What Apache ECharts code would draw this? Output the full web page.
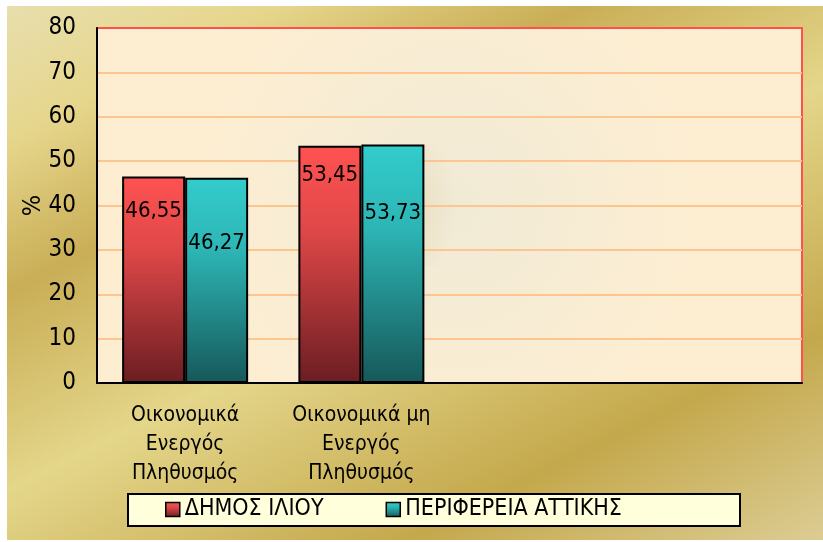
<!DOCTYPE html>
<html>
<head>
<meta charset="utf-8">
<style>
html,body{margin:0;padding:0;background:#fff;}
#chart{width:823px;height:542px;}
</style>
<script src="https://cdn.jsdelivr.net/npm/echarts@6/dist/echarts.min.js"></script>
</head>
<body>
<div id="chart"></div>
<script>
// ---- data ----
const categories = ['Οικονομικά\nΕνεργός\nΠληθυσμός', 'Οικονομικά μη\nΕνεργός\nΠληθυσμός', '', ''];
const seriesNames = ['ΔΗΜΟΣ ΙΛΙΟΥ', 'ΠΕΡΙΦΕΡΕΙΑ ΑΤΤΙΚΗΣ'];
const dimosIliou = [46.55, 53.45];
const periferiaAttikis = [46.27, 53.73];
const yAxisName = '%';

// ---- style helpers (label vertical offsets below bar top, px) ----
const labelDy1 = [35, 29];
const labelDy2 = [66, 69];

const FONT = "'DejaVu Sans Condensed', 'DejaVu Sans', sans-serif";

function fmt(v){ return v.toFixed(2).replace('.', ','); }

function mkData(vals, dys){
  return vals.map((v,i)=>({
    value: v,
    label: { position: ['50%', dys[i]] }
  }));
}

const redGrad = new echarts.graphic.LinearGradient(0,0,0,1,[
  {offset:0, color:'#ff5252'},
  {offset:0.35, color:'#e04848'},
  {offset:1, color:'#6b1d22'}
]);
const tealGrad = new echarts.graphic.LinearGradient(0,0,0,1,[
  {offset:0, color:'#33cccc'},
  {offset:0.35, color:'#2db5b5'},
  {offset:1, color:'#165859'}
]);

const chart = echarts.init(document.getElementById('chart'), null, {renderer:'canvas'});

const labelCommon = {
  show: true,
  align: 'center',
  verticalAlign: 'middle',
  color: '#000',
  fontFamily: FONT,
  fontSize: 22,
  formatter: p => fmt(p.value)
};

const option = {
  animation: false,
  backgroundColor: {
    type: 'linear', global: true,
    x: 0, y: 0, x2: 381, y2: 763,
    colorStops: [
      {offset:0, color:'#e8dfb0'},
      {offset:0.15, color:'#e6d68c'},
      {offset:0.31, color:'#c9ae56'},
      {offset:0.52, color:'#e4d68a'},
      {offset:0.78, color:'#c4a84c'},
      {offset:1, color:'#dccd94'}
    ]
  },
  graphic: [
    {type:'rect', shape:{x:0,y:0,width:823,height:6}, style:{fill:'#fff'}, z:100, silent:true},
    {type:'rect', shape:{x:0,y:0,width:7,height:542}, style:{fill:'#fff'}, z:100, silent:true},
    {type:'rect', shape:{x:0,y:540,width:823,height:2}, style:{fill:'#fff'}, z:100, silent:true},
    {type:'ellipse', shape:{cx:445, cy:205, rx:130, ry:62},
      style:{fill:{type:'radial', x:0.12, y:0.5, r:0.9, colorStops:[
        {offset:0, color:'rgba(195,168,110,0.7)'},
        {offset:0.45, color:'rgba(205,185,135,0.4)'},
        {offset:1, color:'rgba(220,200,150,0)'}
      ]}}, z:-1, silent:true},
    {type:'rect', shape:{x:128,y:494,width:612,height:32},
      style:{fill:'#ffffdc', stroke:'#000', lineWidth:2}, z:-1, silent:true}
  ],
  grid: {
    left: 97, right: 21, top: 28, bottom: 159,
    show: true,
    z: -2,
    backgroundColor: {
      type:'radial', x:0.5, y:0.5, r:0.7,
      colorStops:[{offset:0, color:'#f0ead6'},{offset:1, color:'#fdeed2'}]
    },
    borderColor: '#ff5050',
    borderWidth: 2
  },
  legend: {
    left: 165, top: 498,
    itemWidth: 14, itemHeight: 14,
    itemGap: 62,
    padding: 0,
    icon: 'rect',
    data: seriesNames,
    itemStyle: {borderColor:'#000', borderWidth:1.5},
    textStyle: {fontFamily: FONT, fontSize: 23, color:'#000'}
  },
  xAxis: {
    type: 'category',
    data: categories,
    axisLine: {show:true, lineStyle:{color:'#000', width:2}},
    axisTick: {show:false},
    axisLabel: {
      interval: 0,
      color: '#000',
      fontFamily: FONT,
      fontSize: 21,
      lineHeight: 29,
      margin: 18
    },
    splitLine: {show:false}
  },
  yAxis: {
    type: 'value',
    min: 0, max: 80, interval: 10,
    name: yAxisName,
    nameLocation: 'middle',
    nameRotate: 90,
    nameGap: 51,
    nameMoveOverlap: false,
    nameTextStyle: {color:'#000', fontFamily: FONT, fontSize: 25},
    axisLine: {show:true, lineStyle:{color:'#000', width:2}},
    axisTick: {show:false},
    axisLabel: {color:'#000', fontFamily: FONT, fontSize: 24, margin: 21},
    splitLine: {show:true, showMaxLine:false, lineStyle:{color:'#fdc690', width:2}}
  },
  series: [
    {
      name: seriesNames[0],
      type: 'bar',
      barWidth: 63,
      barGap: '0%',
      data: mkData(dimosIliou, labelDy1),
      itemStyle: {color: redGrad, borderColor:'#000', borderWidth:2},
      label: labelCommon
    },
    {
      name: seriesNames[1],
      type: 'bar',
      barWidth: 63,
      barGap: '0%',
      data: mkData(periferiaAttikis, labelDy2),
      itemStyle: {color: tealGrad, borderColor:'#000', borderWidth:2},
      label: labelCommon
    }
  ]
};
chart.setOption(option);
</script>
</body>
</html>
